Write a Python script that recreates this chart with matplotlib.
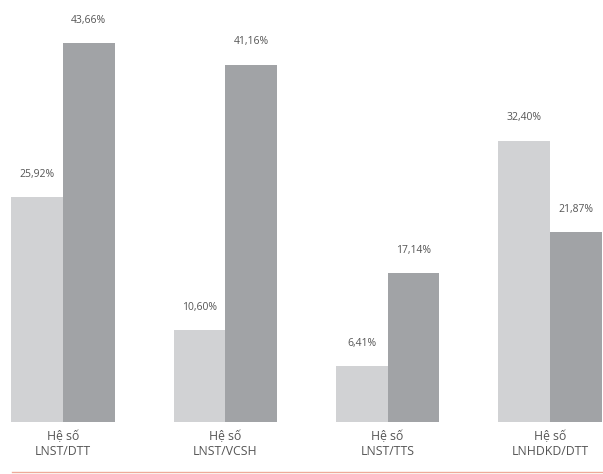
import matplotlib
matplotlib.use("Agg")
import matplotlib.pyplot as plt
import numpy as np

categories = ["Hệ số\nLNST/DTT", "Hệ số\nLNST/VCSH", "Hệ số\nLNST/TTS", "Hệ số\nLNHDKD/DTT"]
series_a = [25.92, 10.60, 6.41, 32.40]
series_b = [43.66, 41.16, 17.14, 21.87]
labels_a = ["25,92%", "10,60%", "6,41%", "32,40%"]
labels_b = ["43,66%", "41,16%", "17,14%", "21,87%"]

plt.rcParams['font.family'] = ['Open Sans', 'DejaVu Sans']

fig = plt.figure(figsize=(6.03, 4.74), dpi=100)
ax = fig.add_axes([0, 52/474, 1, 422/474])

x = np.arange(len(categories))
w = 0.318
light = "#d1d2d4"
dark = "#a1a3a6"
ax.bar(x - w/2, series_a, width=w, color=light, linewidth=0)
ax.bar(x + w/2, series_b, width=w, color=dark, linewidth=0)

for xi, v, t in zip(x - w/2, series_a, labels_a):
    ax.text(xi, v + 2.0, t, ha="center", va="bottom", fontsize=7.5, color="#555555")
for xi, v, t in zip(x + w/2, series_b, labels_b):
    ax.text(xi, v + 2.0, t, ha="center", va="bottom", fontsize=7.5, color="#555555")

ax.set_xlim(-63/162.3, (603-63)/162.3)
ax.set_ylim(0, 43.66*422/379)
ax.axis("off")

for xi, c in zip(x, categories):
    ax.text(xi, -0.9, c, ha="center", va="top", fontsize=8.8, color="#555555",
            linespacing=1.2)

fig.add_artist(plt.Line2D([0.02, 1.0], [2.5/474, 2.5/474], color="#eeaa99", linewidth=1.0))

fig.savefig("out.png", dpi=100, facecolor="white")
